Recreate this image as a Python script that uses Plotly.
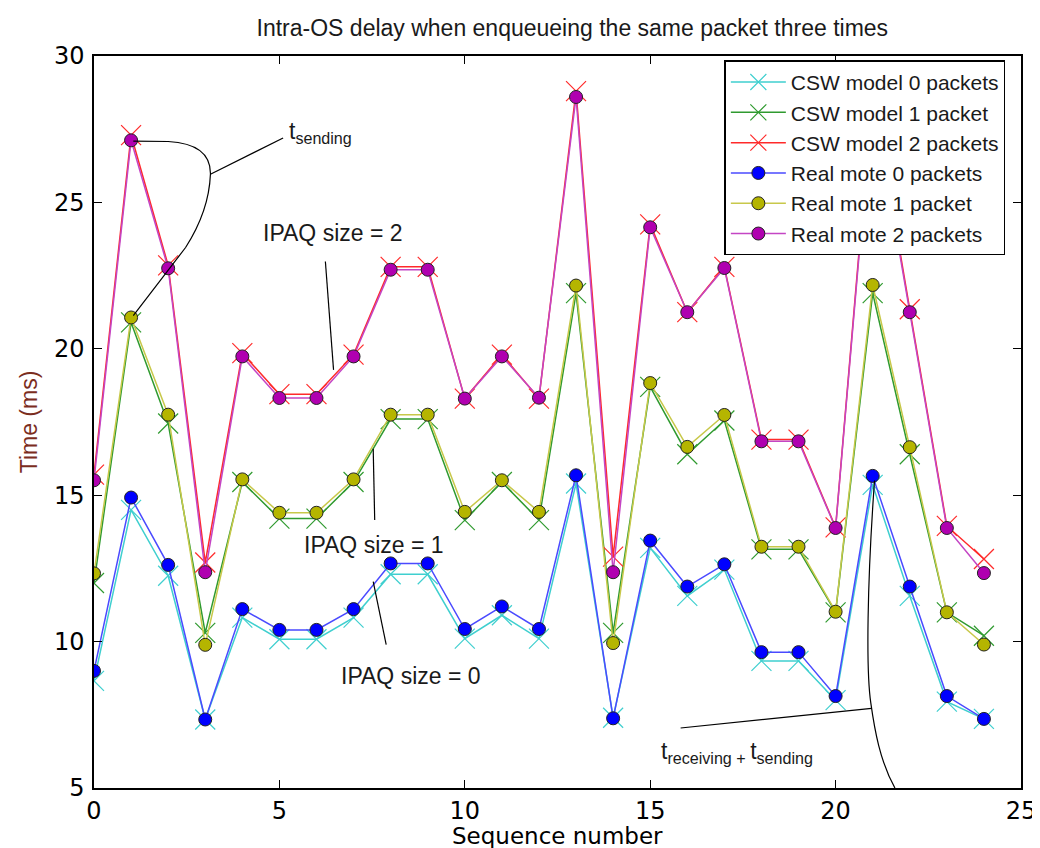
import plotly.graph_objects as go

# sequence numbers and measured delays (ms)
seq = list(range(25))

csw_0 = [8.66, 14.5, 12.25, 7.34, 10.82, 10.08, 10.08, 10.82, 12.3, 12.3, 10.1, 10.9, 10.1,
         15.4, 7.4, 13.2, 11.56, 12.46, 9.34, 9.34, 8.0, 15.35, 11.56, 7.95, 7.36]
csw_1 = [12.0, 20.9, 17.45, 10.3, 15.45, 14.2, 14.2, 15.45, 17.6, 17.6, 14.15, 15.45, 14.15,
         21.9, 10.3, 18.7, 16.4, 17.55, 13.15, 13.15, 11.0, 21.9, 16.4, 11.0, 10.2]
csw_2 = [15.7, 27.3, 22.85, 12.7, 19.85, 18.45, 18.45, 19.8, 22.8, 22.8, 18.3, 19.8, 18.3,
         28.8, 12.9, 24.25, 21.25, 22.8, 16.9, 16.9, 13.9, 28.8, 21.35, 13.95, 12.82]

real_0 = [9.0, 14.92, 12.62, 7.34, 11.11, 10.4, 10.4, 11.11, 12.67, 12.67, 10.43, 11.2, 10.43,
          15.68, 7.38, 13.45, 11.88, 12.64, 9.64, 9.64, 8.14, 15.66, 11.88, 8.14, 7.36]
real_1 = [12.33, 21.07, 17.75, 9.89, 15.54, 14.4, 14.4, 15.54, 17.75, 17.75, 14.43, 15.51, 14.43,
          22.16, 9.95, 18.83, 16.65, 17.74, 13.24, 13.24, 11.02, 22.18, 16.64, 11.0, 9.9]
real_2 = [15.51, 27.12, 22.75, 12.37, 19.74, 18.32, 18.32, 19.74, 22.7, 22.7, 18.3, 19.74, 18.33,
          28.6, 12.37, 24.15, 21.25, 22.76, 16.84, 16.84, 13.88, 28.6, 21.25, 13.88, 12.34]

csw_names = ["CSW model 0 packets", "CSW model 1 packet", "CSW model 2 packets"]
real_names = ["Real mote 0 packets", "Real mote 1 packet", "Real mote 2 packets"]

csw_colors = ["#3fcfcf", "#2f9a2f", "#ff2a2a"]
real_line_colors = ["#4a4aff", "#c8c84a", "#c445c4"]
real_fill_colors = ["#0000ff", "#b5b500", "#b000b0"]

TEXT_FONT = "Liberation Sans, Arial, sans-serif"
TICK_FONT = "DejaVu Sans, sans-serif"

fig = go.Figure()

for ys, name, col in zip([csw_0, csw_1, csw_2], csw_names, csw_colors):
    fig.add_trace(go.Scatter(
        x=seq, y=ys, name=name, mode="lines+markers",
        line=dict(color=col, width=1.5),
        marker=dict(symbol="x-thin", size=20, color=col,
                    line=dict(color=col, width=1.2)),
    ))

for ys, name, lcol, fcol in zip([real_0, real_1, real_2], real_names,
                                real_line_colors, real_fill_colors):
    fig.add_trace(go.Scatter(
        x=seq, y=ys, name=name, mode="lines+markers",
        line=dict(color=lcol, width=1.5),
        marker=dict(symbol="circle", size=13, color=fcol,
                    line=dict(color="#222222", width=1)),
    ))

# leader lines / brackets for the annotations
black = dict(color="black", width=1.2)
fig.add_shape(type="path", xref="x", yref="y", line=black,
              path="M 1.06,27.09 L 2.0,27.08 Q 3.16,27.0 3.14,25.96 "
                   "Q 3.1,24.7 2.47,23.46 L 1.06,21.13")
fig.add_shape(type="line", xref="x", yref="y", line=black,
              x0=3.14, y0=25.96, x1=5.1, y1=27.2)
fig.add_shape(type="line", xref="x", yref="y", line=black,
              x0=6.24, y0=22.98, x1=6.46, y1=19.28)
fig.add_shape(type="line", xref="x", yref="y", line=black,
              x0=7.53, y0=16.59, x1=7.57, y1=14.15)
fig.add_shape(type="line", xref="x", yref="y", line=black,
              x0=7.53, y0=12.05, x1=7.88, y1=9.9)
fig.add_shape(type="line", xref="x", yref="y", line=black,
              x0=15.82, y0=7.05, x1=20.97, y1=7.72)
fig.add_shape(type="path", xref="x", yref="y", line=black,
              path="M 21.05,15.5 C 20.85,12.0 20.82,9.0 20.95,7.9 "
                   "C 21.05,7.0 21.2,5.9 21.6,5.0")

ann_font = dict(family=TEXT_FONT, size=23, color="#1a1a1a")
fig.add_annotation(x=5.2, y=27.4, xref="x", yref="y", showarrow=False,
                   xanchor="left", yanchor="middle",
                   text="t<sub>sending</sub>", font=ann_font)
fig.add_annotation(x=6.44, y=23.97, xref="x", yref="y", showarrow=False,
                   text="IPAQ size = 2", font=ann_font)
fig.add_annotation(x=7.55, y=13.31, xref="x", yref="y", showarrow=False,
                   text="IPAQ size = 1", font=ann_font)
fig.add_annotation(x=8.54, y=8.81, xref="x", yref="y", showarrow=False,
                   text="IPAQ size = 0", font=ann_font)
fig.add_annotation(x=15.25, y=6.2, xref="x", yref="y", showarrow=False,
                   xanchor="left", yanchor="middle",
                   text="t<sub>receiving + </sub>t<sub>sending</sub>", font=ann_font)

# x axis title placed as a paper annotation so it stays inside the canvas
fig.add_annotation(x=0.5, y=-0.066, xref="paper", yref="paper", showarrow=False,
                   xanchor="center", yanchor="middle", text="Sequence number",
                   font=dict(family=TICK_FONT, size=23, color="black"))

axis_common = dict(
    showgrid=False, zeroline=False, showline=True, linecolor="black", linewidth=1.5,
    mirror="ticks", ticks="inside", ticklen=8, tickwidth=1.2, tickcolor="black",
    tickfont=dict(family=TICK_FONT, size=24, color="black"),
    ticklabeloverflow="allow",
)

fig.update_xaxes(range=[0, 25], dtick=5, tick0=0, **axis_common)
fig.update_yaxes(range=[5, 30], dtick=5, tick0=5, ticklabelstandoff=3,
                 title=dict(text="Time (ms)", standoff=10,
                            font=dict(family=TEXT_FONT, size=23, color="#7b2d1e")),
                 **axis_common)

fig.update_layout(
    width=1040, height=848,
    margin=dict(l=86, r=13, t=48, b=68),
    plot_bgcolor="white", paper_bgcolor="white",
    title=dict(text="Intra-OS delay when enqueueing the same packet three times",
               x=0.516, xref="paper", y=0.976, yanchor="middle",
               font=dict(family=TEXT_FONT, size=23, color="#1a1a1a")),
    legend=dict(x=0.68, y=0.994, xanchor="left", yanchor="top",
                bgcolor="white", bordercolor="black", borderwidth=1.5,
                font=dict(family=TEXT_FONT, size=21, color="#1a1a1a"),
                itemwidth=55, tracegroupgap=0),
    showlegend=True,
)

fig.write_html("out.html")
